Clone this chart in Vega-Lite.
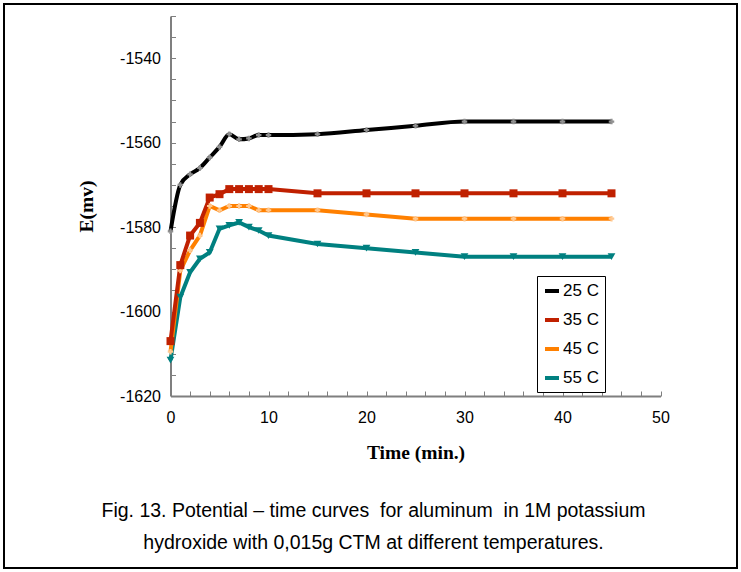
{
 "$schema": "https://vega.github.io/schema/vega-lite/v6.json",
 "width": 733, "height": 564,
 "autosize": "none",
 "padding": {"left": 4, "top": 4, "right": 4, "bottom": 4},
 "background": "white",
 "config": {"view": {"stroke": "#000000", "strokeWidth": 2}, "font": "Liberation Sans"},
 "title": {"text": ["Fig. 13. Potential – time curves \u00a0for aluminum \u00a0in 1M potassium", "hydroxide with 0,015g CTM at different temperatures."], "orient": "bottom", "anchor": "middle", "offset": -66, "dx": 3, "font": "Liberation Sans", "fontSize": 19.5, "fontWeight": "normal", "lineHeight": 32, "color": "#000000"},
 "data": {"values": [
  {"t":0,"E":-1611.5,"s":"55 C"},{"t":1,"E":-1596.6,"s":"55 C"},{"t":2,"E":-1590.7,"s":"55 C"},{"t":3,"E":-1587.5,"s":"55 C"},{"t":4,"E":-1586,"s":"55 C"},{"t":5,"E":-1580.4,"s":"55 C"},{"t":6,"E":-1579.6,"s":"55 C"},{"t":7,"E":-1578.9,"s":"55 C"},{"t":8,"E":-1580,"s":"55 C"},{"t":9,"E":-1580.8,"s":"55 C"},{"t":10,"E":-1582,"s":"55 C"},{"t":15,"E":-1584,"s":"55 C"},{"t":20,"E":-1585,"s":"55 C"},{"t":25,"E":-1586,"s":"55 C"},{"t":30,"E":-1587,"s":"55 C"},{"t":35,"E":-1587,"s":"55 C"},{"t":40,"E":-1587,"s":"55 C"},{"t":45,"E":-1587,"s":"55 C"},
  {"t":0,"E":-1609.5,"s":"45 C"},{"t":1,"E":-1590.3,"s":"45 C"},{"t":2,"E":-1585.5,"s":"45 C"},{"t":3,"E":-1582,"s":"45 C"},{"t":4,"E":-1575,"s":"45 C"},{"t":5,"E":-1576,"s":"45 C"},{"t":6,"E":-1575,"s":"45 C"},{"t":7,"E":-1575,"s":"45 C"},{"t":8,"E":-1575,"s":"45 C"},{"t":9,"E":-1576,"s":"45 C"},{"t":10,"E":-1576,"s":"45 C"},{"t":15,"E":-1576,"s":"45 C"},{"t":20,"E":-1577,"s":"45 C"},{"t":25,"E":-1578,"s":"45 C"},{"t":30,"E":-1578,"s":"45 C"},{"t":35,"E":-1578,"s":"45 C"},{"t":40,"E":-1578,"s":"45 C"},{"t":45,"E":-1578,"s":"45 C"},
  {"t":0,"E":-1607,"s":"35 C"},{"t":1,"E":-1589,"s":"35 C"},{"t":2,"E":-1582,"s":"35 C"},{"t":3,"E":-1579,"s":"35 C"},{"t":4,"E":-1573,"s":"35 C"},{"t":5,"E":-1572.2,"s":"35 C"},{"t":6,"E":-1571,"s":"35 C"},{"t":7,"E":-1571,"s":"35 C"},{"t":8,"E":-1571,"s":"35 C"},{"t":9,"E":-1571,"s":"35 C"},{"t":10,"E":-1571,"s":"35 C"},{"t":15,"E":-1572,"s":"35 C"},{"t":20,"E":-1572,"s":"35 C"},{"t":25,"E":-1572,"s":"35 C"},{"t":30,"E":-1572,"s":"35 C"},{"t":35,"E":-1572,"s":"35 C"},{"t":40,"E":-1572,"s":"35 C"},{"t":45,"E":-1572,"s":"35 C"},
  {"t":0,"E":-1581,"s":"25 C"},{"t":1,"E":-1570,"s":"25 C"},{"t":2,"E":-1567.5,"s":"25 C"},{"t":3,"E":-1566,"s":"25 C"},{"t":4,"E":-1563.5,"s":"25 C"},{"t":5,"E":-1561,"s":"25 C"},{"t":6,"E":-1558,"s":"25 C"},{"t":7,"E":-1559.2,"s":"25 C"},{"t":8,"E":-1559,"s":"25 C"},{"t":9,"E":-1558.2,"s":"25 C"},{"t":10,"E":-1558.2,"s":"25 C"},{"t":15,"E":-1558,"s":"25 C"},{"t":20,"E":-1557,"s":"25 C"},{"t":25,"E":-1556,"s":"25 C"},{"t":30,"E":-1555,"s":"25 C"},{"t":35,"E":-1555,"s":"25 C"},{"t":40,"E":-1555,"s":"25 C"},{"t":45,"E":-1555,"s":"25 C"}
 ]},
 "encoding": {
  "x": {"field": "t", "type": "quantitative",
   "scale": {"domain": [0, 50], "range": [166.5, 656.5], "nice": false, "zero": false},
   "axis": {"orient": "bottom", "offset": -172, "values": [0,2,4,6,8,10,12,14,16,18,20,22,24,26,28,30,32,34,36,38,40,42,44,46,48,50],
    "labelExpr": "datum.value % 10 === 0 ? '' + datum.value : ''", "labelOverlap": false, "labelFlush": false, "labelBound": false,
    "grid": false, "tickSize": -5, "domainColor": "#7f7f7f", "domainWidth": 2, "tickColor": "#7f7f7f", "tickWidth": 1,
    "labelFont": "Liberation Sans", "labelFontSize": 16, "labelColor": "#000000", "labelPadding": 18,
    "title": "Time (min.)", "titleFont": "Liberation Serif", "titleFontSize": 19.5, "titleFontWeight": "bold", "titleColor": "#000000", "titlePadding": 18}},
  "y": {"field": "E", "type": "quantitative",
   "scale": {"domain": [-1620, -1530], "range": [392, 12], "nice": false, "zero": false},
   "axis": {"orient": "left", "offset": -166.5, "values": [-1620,-1615,-1610,-1605,-1600,-1595,-1590,-1585,-1580,-1575,-1570,-1565,-1560,-1555,-1550,-1545,-1540,-1535,-1530],
    "labelExpr": "datum.value % 20 === 0 ? '' + datum.value : ''", "labelOverlap": false, "labelFlush": false, "labelBound": false,
    "grid": false, "tickSize": -5, "domainColor": "#7f7f7f", "domainWidth": 2, "tickColor": "#7f7f7f", "tickWidth": 1,
    "labelFont": "Liberation Sans", "labelFontSize": 16, "labelColor": "#000000", "labelPadding": 15,
    "title": "E(mv)", "titleFont": "Liberation Serif", "titleFontSize": 19.5, "titleFontWeight": "bold", "titleColor": "#000000", "titlePadding": 23}}
 },
 "layer": [
  {"transform": [{"filter": "datum.s !== '25 C'"}],
   "mark": {"type": "line", "strokeWidth": 4, "interpolate": "linear"},
   "encoding": {"color": {"field": "s", "type": "nominal",
     "scale": {"domain": ["25 C", "35 C", "45 C", "55 C"], "range": ["#000000", "#C02000", "#FF8000", "#008080"]},
     "legend": {"orient": "none", "legendX": 533, "legendY": 272, "title": null, "symbolType": "stroke", "symbolStrokeWidth": 4, "symbolSize": 196,
       "labelFont": "Liberation Sans", "labelFontSize": 17, "labelColor": "#000000", "labelExpr": "datum.label + '\u00a0\u00a0\u00a0'",
       "fillColor": "#ffffff", "strokeColor": "#000000", "padding": 6, "rowPadding": 12, "labelOffset": 2}}}},
  {"transform": [{"filter": "datum.s === '25 C'"}],
   "mark": {"type": "line", "strokeWidth": 4, "interpolate": "monotone"},
   "encoding": {"color": {"field": "s", "type": "nominal"}}},
  {"transform": [{"filter": "datum.s === '55 C'"}],
   "mark": {"type": "point", "shape": "triangle-down", "filled": true, "color": "#008080", "size": 60, "opacity": 1}},
  {"transform": [{"filter": "datum.s === '45 C'"}],
   "mark": {"type": "point", "shape": "cross", "filled": true, "color": "#FFC890", "size": 30, "opacity": 1}},
  {"transform": [{"filter": "datum.s === '35 C'"}],
   "mark": {"type": "point", "shape": "square", "filled": true, "color": "#C02000", "size": 64, "opacity": 1}},
  {"transform": [{"filter": "datum.s === '25 C'"}],
   "mark": {"type": "point", "shape": "cross", "filled": true, "color": "#909090", "size": 30, "opacity": 1}}
 ]
}
